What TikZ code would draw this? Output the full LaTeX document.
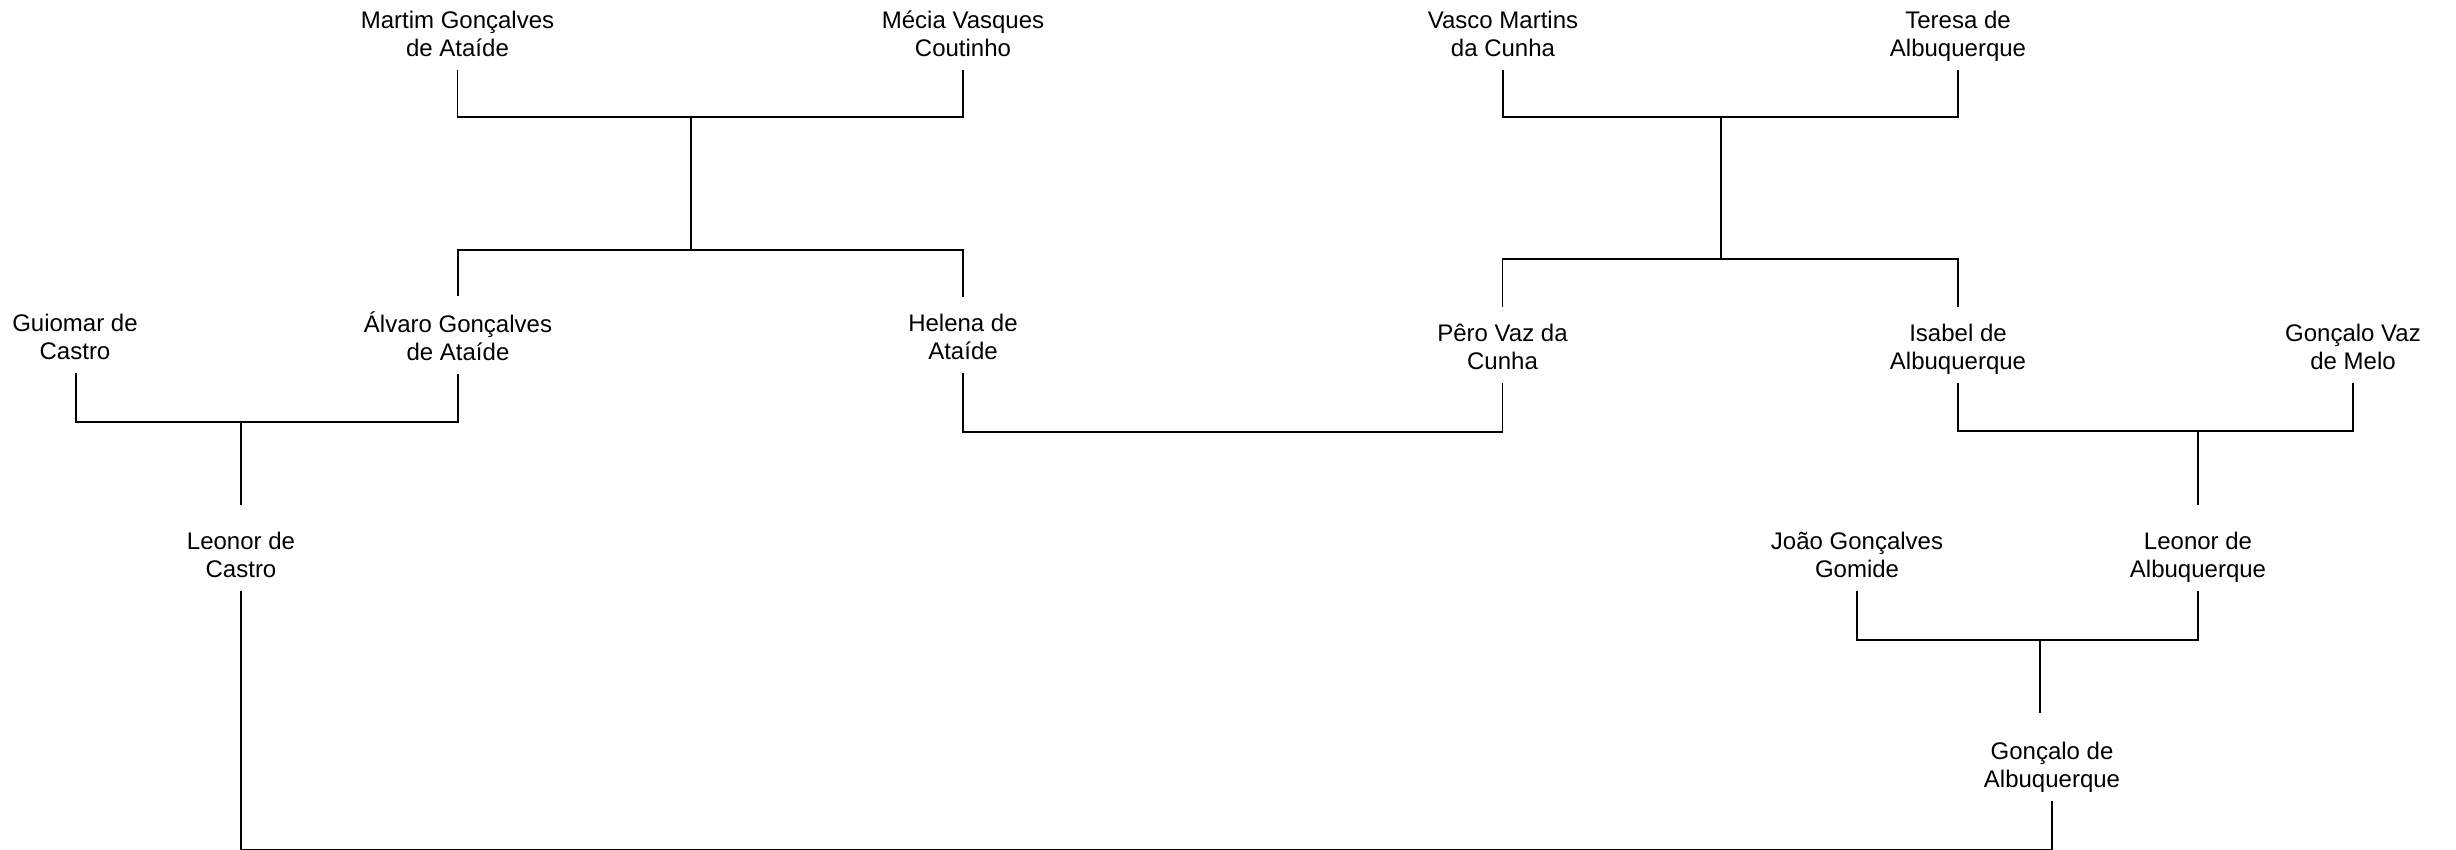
\documentclass[tikz,border=0pt]{standalone}
\usepackage{fontspec}
\setmainfont{Liberation Sans}
\newcommand\twol[2]{\strut#1\\\strut#2}
\begin{document}
\begin{tikzpicture}[x=1pt,y=-1pt,
  person/.style={align=center,inner xsep=0pt,inner ysep=5pt,
    font=\fontsize{24}{28}\selectfont},
  link/.style={draw=black,line width=1.1pt}]
\useasboundingbox (0,0) rectangle (2456,850);
% row 1
\node[person] (martim) at (457.5,37) {\twol{Martim Gonçalves}{de Ataíde}};
\node[person] (mecia)  at (963,37)   {\twol{Mécia Vasques}{Coutinho}};
\node[person] (vasco)  at (1503,37)  {\twol{Vasco Martins}{da Cunha}};
\node[person] (teresa) at (1958,37)  {\twol{Teresa de}{Albuquerque}};
% row 2
\node[person] (guiomar) at (75,340)   {\twol{Guiomar de}{Castro}};
\node[person] (alvaro)  at (458,340)  {\twol{Álvaro Gonçalves}{de Ataíde}};
\node[person] (helena)  at (963,340)  {\twol{Helena de}{Ataíde}};
\node[person] (pero)    at (1502.5,350) {\twol{Pêro Vaz da}{Cunha}};
\node[person] (isabel)  at (1958,350) {\twol{Isabel de}{Albuquerque}};
\node[person] (gvaz)    at (2353,350) {\twol{Gonçalo Vaz}{de Melo}};
% row 3
\node[person] (leonorc) at (241,558)  {\twol{Leonor de}{Castro}};
\node[person] (joao)    at (1857,558) {\twol{João Gonçalves}{Gomide}};
\node[person] (leonora) at (2198,558) {\twol{Leonor de}{Albuquerque}};
% row 4
\node[person] (goncalo) at (2052,768) {\twol{Gonçalo de}{Albuquerque}};
% junctions
\coordinate (j1) at (691,117);
\coordinate (j1b) at (691,250);
\coordinate (j2) at (1721,117);
\coordinate (j2b) at (1721,259);
\coordinate (j3) at (241,422);
\coordinate (hp) at (1230,432);
\coordinate (j4) at (2198,431);
\coordinate (j5) at (2040,640);
\coordinate (g5) at ([yshift=22pt]goncalo.north);
\coordinate (bot) at (1146,849.5);
% connectors
\draw[link] (martim.south) |- (j1) -| (mecia.south);
\draw[link] (j1) -- (j1b);
\draw[link] ([yshift=10pt]alvaro.north) |- (j1b) -| ([yshift=10pt]helena.north);
\draw[link] (vasco.south) |- (j2) -| (teresa.south);
\draw[link] (j2) -- (j2b);
\draw[link] ([yshift=10pt]pero.north) |- (j2b) -| ([yshift=10pt]isabel.north);
\draw[link] ([xshift=1pt]guiomar.south) |- (j3) -| (alvaro.south);
\draw[link] (j3) -- ([yshift=20pt]leonorc.north);
\draw[link] (helena.south) |- (hp) -| (pero.south);
\draw[link] (isabel.south) |- (j4) -| (gvaz.south);
\draw[link] (j4) -- ([yshift=20pt]leonora.north);
\draw[link] (joao.south) |- (j5) -| (leonora.south);
\draw[link] (j5) -- (j5 |- g5);
\draw[link] (leonorc.south) |- (bot) -| (goncalo.south);
\end{tikzpicture}
\end{document}
